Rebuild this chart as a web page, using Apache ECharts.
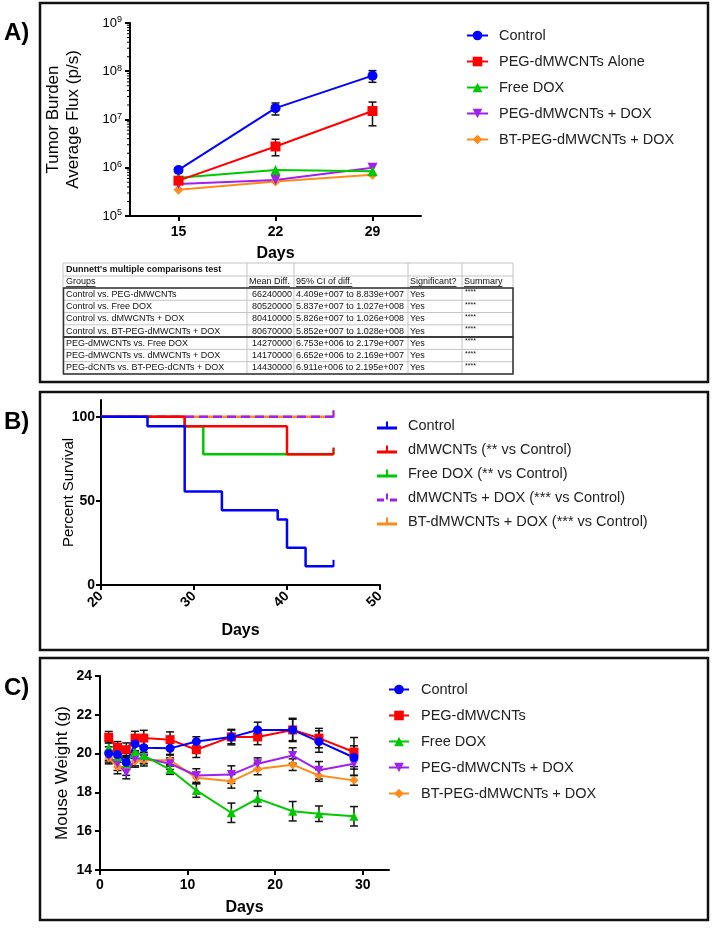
<!DOCTYPE html>
<html><head><meta charset="utf-8">
<script src="https://cdn.jsdelivr.net/npm/echarts@6/dist/echarts.min.js"></script>
<style>
html,body{margin:0;padding:0;background:#fff;}
.p{position:absolute;left:0;width:713px;}
#a{top:0;height:387px;}
#b{top:387px;height:266px;}
#c{top:653px;height:275px;}
</style></head><body>
<div id="a" class="p"></div><div id="b" class="p"></div><div id="c" class="p"></div>
<script>
// ---------------- Panel A data ----------------
const fluxDays = ['15', '22', '29'];
const fluxNames = ['Control', 'PEG-dMWCNTs Alone', 'Free DOX', 'PEG-dMWCNTs + DOX', 'BT-PEG-dMWCNTs + DOX'];
const fluxControl = [9.0e5, 1.72e7, 8.1e7];
const fluxPeg = [5.4e5, 2.76e6, 1.5e7];
const fluxFreeDox = [6.2e5, 9.0e5, 8.5e5];
const fluxPegDox = [4.6e5, 5.6e5, 1.0e6];
const fluxBtPegDox = [3.5e5, 5.2e5, 7.2e5];
const fluxControlLow = [8.0e5, 1.24e7, 5.9e7];
const fluxControlHigh = [1.0e6, 2.2e7, 1.03e8];
const fluxPegLow = [4.8e5, 1.77e6, 7.4e6];
const fluxPegHigh = [6.0e5, 3.9e6, 2.3e7];
const fluxMinorTicks = [2e5,3e5,4e5,5e5,6e5,7e5,8e5,9e5,2e6,3e6,4e6,5e6,6e6,7e6,8e6,9e6,2e7,3e7,4e7,5e7,6e7,7e7,8e7,9e7,2e8,3e8,4e8,5e8,6e8,7e8,8e8,9e8];

// Table
const tableTitle = "Dunnett's multiple comparisons test";
const tableHeader = ['Groups', 'Mean Diff.', '95% CI of diff.', 'Significant?', 'Summary'];
const tableGroups = ['Control vs. PEG-dMWCNTs', 'Control vs. Free DOX', 'Control vs. dMWCNTs + DOX', 'Control vs. BT-PEG-dMWCNTs + DOX', 'PEG-dMWCNTs vs. Free DOX', 'PEG-dMWCNTs vs. dMWCNTs + DOX', 'PEG-dCNTs vs. BT-PEG-dCNTs + DOX'];
const tableMeanDiff = ['66240000', '80520000', '80410000', '80670000', '14270000', '14170000', '14430000'];
const tableCI = ['4.409e+007 to 8.839e+007', '5.837e+007 to 1.027e+008', '5.826e+007 to 1.026e+008', '5.852e+007 to 1.028e+008', '6.753e+006 to 2.179e+007', '6.652e+006 to 2.169e+007', '6.911e+006 to 2.195e+007'];
const tableSig = ['Yes', 'Yes', 'Yes', 'Yes', 'Yes', 'Yes', 'Yes'];
const tableSummary = ['****', '****', '****', '****', '****', '****', '****'];

// ---------------- Panel B data ----------------
const survNames = ['Control', 'dMWCNTs (** vs Control)', 'Free DOX (** vs Control)', 'dMWCNTs + DOX (*** vs Control)', 'BT-dMWCNTs + DOX (*** vs Control)'];
const survControlDays = [20, 25, 29, 33, 39, 40, 42, 45];
const survControlPct = [100, 94.4, 55.6, 44.4, 38.9, 22.2, 11.1, 11.1];
const survDmwDays = [20, 29, 40, 45];
const survDmwPct = [100, 94.4, 77.8, 77.8];
const survFreeDays = [20, 29, 31, 45];
const survFreePct = [100, 94.4, 77.8, 77.8];
const survDoxDays = [20, 45];
const survDoxPct = [100, 100];
const survBtDays = [20, 45];
const survBtPct = [100, 100];
const survYTicks = [0, 50, 100];

// ---------------- Panel C data ----------------
const weightNames = ['Control', 'PEG-dMWCNTs', 'Free DOX', 'PEG-dMWCNTs + DOX', 'BT-PEG-dMWCNTs + DOX'];
const weightDays = [1, 2, 3, 4, 5, 8, 11, 15, 18, 22, 25, 29];
const weightControl = [20.0, 19.95, 19.55, 20.5, 20.3, 20.27, 20.62, 20.85, 21.22, 21.22, 20.62, 19.8];
const weightPeg = [20.84, 20.32, 20.2, 20.8, 20.8, 20.72, 20.2, 20.86, 20.86, 21.22, 20.8, 20.08];
const weightFreeDox = [20.3, 19.85, 19.5, 20.1, 19.9, 19.18, 18.1, 16.95, 17.68, 17.03, 16.9, 16.77];
const weightPegDox = [19.86, 19.48, 19.0, 19.72, 19.77, 19.48, 18.87, 18.92, 19.48, 19.9, 19.14, 19.48];
const weightBtPegDox = [19.77, 19.31, 19.18, 19.6, 19.66, 19.66, 18.75, 18.57, 19.21, 19.43, 18.87, 18.62];
const weightControlErr = [0.35, 0.3, 0.35, 0.35, 0.4, 0.35, 0.25, 0.4, 0.4, 0.55, 0.55, 0.6];
const weightPegErr = [0.3, 0.3, 0.35, 0.35, 0.4, 0.4, 0.4, 0.35, 0.4, 0.6, 0.5, 0.75];
const weightFreeDoxErr = [0.3, 0.3, 0.3, 0.35, 0.4, 0.25, 0.35, 0.5, 0.4, 0.5, 0.4, 0.5];
const weightPegDoxErr = [0.3, 0.35, 0.3, 0.35, 0.3, 0.3, 0.35, 0.45, 0.3, 0.4, 0.45, 0.6];
const weightBtPegDoxErr = [0.3, 0.35, 0.3, 0.3, 0.3, 0.3, 0.3, 0.35, 0.3, 0.3, 0.3, 0.25];
const weightXTicks = [0, 10, 20, 30];

// ---------------- styles ----------------
const FONT = '"Liberation Sans", Arial, Helvetica, sans-serif';
const C_BLUE = '#0000ff', C_RED = '#ff0000', C_GREEN = '#00c800', C_PURPLE = '#a020f0', C_ORANGE = '#ff8c1a';

function errorBarItem(params, api) {
  const x = api.value(0), lo = api.value(1), hi = api.value(2);
  const a = api.coord([x, lo]), b = api.coord([x, hi]);
  const cap = 4;
  const st = { stroke: '#111', lineWidth: 1.5 };
  return { type: 'group', children: [
    { type: 'line', shape: { x1: a[0], y1: a[1], x2: b[0], y2: b[1] }, style: st },
    { type: 'line', shape: { x1: a[0] - cap, y1: a[1], x2: a[0] + cap, y2: a[1] }, style: st },
    { type: 'line', shape: { x1: b[0] - cap, y1: b[1], x2: b[0] + cap, y2: b[1] }, style: st }
  ]};
}
function panelBox(y, h, label) {
  return [
    { type: 'rect', shape: { x: 40, y: y, width: 668, height: h }, style: { fill: 'none', stroke: '#111', lineWidth: 2.5 }, silent: true },
    { type: 'text', x: 4, y: y + 30, style: { text: label, font: 'bold 24px ' + FONT, fill: '#000', textVerticalAlign: 'middle' }, silent: true }
  ];
}
const axisLineSt = { show: true, lineStyle: { color: '#000', width: 2 } };
const axisTickSt = { show: true, length: 5, lineStyle: { color: '#000', width: 2 } };

// ---------------- Table ----------------
function buildTable() {
  const els = [];
  const colX = [63, 247, 294, 408, 462, 513];
  const rowY = [263, 276, 288];
  for (let i = 1; i <= 7; i++) rowY.push(288 + i * 12.28);
  const bottom = rowY[rowY.length - 1];
  const gray = { stroke: '#c4c4c4', lineWidth: 1 };
  rowY.forEach(y => els.push({ type: 'line', shape: { x1: 63, y1: y, x2: 513, y2: y }, style: gray }));
  colX.forEach(x => els.push({ type: 'line', shape: { x1: x, y1: 263, x2: x, y2: bottom }, style: gray }));
  els.push({ type: 'rect', shape: { x: 63.5, y: 288, width: 449.5, height: rowY[6] - 288 }, style: { fill: 'none', stroke: '#333', lineWidth: 1.5 } });
  els.push({ type: 'rect', shape: { x: 63.5, y: rowY[6], width: 449.5, height: bottom - rowY[6] }, style: { fill: 'none', stroke: '#333', lineWidth: 1.5 } });
  const f = '9px ' + FONT;
  const ctx = document.createElement('canvas').getContext('2d');
  ctx.font = f;
  els.push({ type: 'text', x: 66, y: 269.5, style: { text: tableTitle, font: 'bold 9px ' + FONT, fill: '#111', textVerticalAlign: 'middle' } });
  const hx = [66, 249, 296, 410, 464];
  tableHeader.forEach((t, i) => {
    els.push({ type: 'text', x: hx[i], y: 282, style: { text: t, font: f, fill: '#111', textVerticalAlign: 'middle' } });
    const w = ctx.measureText(t).width;
    els.push({ type: 'line', shape: { x1: hx[i], y1: 286.5, x2: hx[i] + w, y2: 286.5 }, style: { stroke: '#111', lineWidth: 0.8 } });
  });
  for (let r = 0; r < 7; r++) {
    const yc = rowY[2 + r] + 6.3;
    els.push({ type: 'text', x: 66, y: yc, style: { text: tableGroups[r], font: f, fill: '#111', textVerticalAlign: 'middle' } });
    els.push({ type: 'text', x: 292, y: yc, style: { text: tableMeanDiff[r], font: f, fill: '#111', textAlign: 'right', textVerticalAlign: 'middle' } });
    els.push({ type: 'text', x: 296, y: yc, style: { text: tableCI[r], font: f, fill: '#111', textVerticalAlign: 'middle' } });
    els.push({ type: 'text', x: 410, y: yc, style: { text: tableSig[r], font: f, fill: '#111', textVerticalAlign: 'middle' } });
    els.push({ type: 'text', x: 465, y: yc - 2, style: { text: tableSummary[r], font: '7px ' + FONT, fill: '#111', textVerticalAlign: 'middle' } });
  }
  return els;
}

// ---------------- Chart A ----------------
const chartA = echarts.init(document.getElementById('a'), null, { renderer: 'canvas' });
function lineSeriesA(name, data, color, symbol, rotate) {
  return { name: name, type: 'line', data: data, symbol: symbol, symbolSize: 10, symbolRotate: rotate || 0,
    itemStyle: { color: color }, lineStyle: { color: color, width: 2 }, z: 3 };
}
chartA.setOption({
  animation: false,
  textStyle: { fontFamily: FONT },
  grid: { left: 130, top: 23, width: 291, height: 193 },
  xAxis: {
    type: 'category', data: fluxDays, boundaryGap: true,
    axisLine: axisLineSt, axisTick: Object.assign({ alignWithLabel: true }, axisTickSt),
    axisLabel: { color: '#000', fontWeight: 'bold', fontSize: 14, margin: 9 },
    name: 'Days', nameLocation: 'middle', nameGap: 30, nameMoveOverlap: false,
    nameTextStyle: { color: '#000', fontWeight: 'bold', fontSize: 16 }
  },
  yAxis: {
    type: 'log', logBase: 10, min: 1e5, max: 1e9,
    axisLine: axisLineSt, axisTick: axisTickSt, splitLine: { show: false },
    axisLabel: {
      color: '#000', fontSize: 13, margin: 8,
      formatter: v => '10{s|' + Math.round(Math.log10(v)) + '}',
      rich: { s: { fontSize: 9, verticalAlign: 'top', padding: [0, 0, 6, 0], color: '#000' } }
    },
    name: 'Tumor Burden\nAverage Flux (p/s)', nameLocation: 'middle', nameGap: 47, nameMoveOverlap: false,
    nameTextStyle: { color: '#000', fontSize: 17, lineHeight: 20 }
  },
  legend: {
    orient: 'vertical', left: 466, top: 28, padding: 0, itemWidth: 21, itemHeight: 12, itemGap: 11,
    textStyle: { fontSize: 14.5, color: '#222', padding: [0, 0, 0, 6] },
    data: fluxNames
  },
  series: [
    { type: 'custom', silent: true, z: 1, clip: false,
      renderItem: (params, api) => {
        const y = api.coord([0, api.value(1)])[1];
        const x0 = params.coordSys.x;
        return { type: 'line', shape: { x1: x0 - 3, y1: y, x2: x0, y2: y }, style: { stroke: '#000', lineWidth: 1 } };
      },
      data: fluxMinorTicks.map(v => [0, v]) },
    { type: 'custom', silent: true, z: 2, renderItem: errorBarItem, encode: { x: 0, y: [1, 2] },
      data: fluxControl.map((v, i) => [i, fluxControlLow[i], fluxControlHigh[i]]) },
    { type: 'custom', silent: true, z: 2, renderItem: errorBarItem, encode: { x: 0, y: [1, 2] },
      data: fluxPeg.map((v, i) => [i, fluxPegLow[i], fluxPegHigh[i]]) },
    lineSeriesA(fluxNames[4], fluxBtPegDox, C_ORANGE, 'diamond'),
    lineSeriesA(fluxNames[3], fluxPegDox, C_PURPLE, 'triangle', 180),
    lineSeriesA(fluxNames[2], fluxFreeDox, C_GREEN, 'triangle'),
    lineSeriesA(fluxNames[1], fluxPeg, C_RED, 'rect'),
    lineSeriesA(fluxNames[0], fluxControl, C_BLUE, 'circle')
  ],
  graphic: { elements: panelBox(3, 379, 'A)').concat(buildTable()) }
});

// ---------------- Chart B ----------------
const chartB = echarts.init(document.getElementById('b'), null, { renderer: 'canvas' });
function survSeries(name, days, pct, color, z, dashed) {
  const last = days.length - 1;
  return {
    name: name, type: 'line', step: 'end', z: z,
    symbol: 'rect', symbolSize: [2, 7], symbolOffset: [0, -3],
    itemStyle: { color: color },
    lineStyle: { color: color, width: 2.5, type: dashed ? [9, 5] : 'solid' },
    data: days.map((d, i) => i === last ? { value: [d, pct[i]] } : { value: [d, pct[i]], symbol: 'none' })
  };
}
const tickIcon = 'path://M0,5h20v3h-20z M9,0h2v5h-2z';
const dashIcon = 'path://M0,5h7v3h-7z M9,0h2v6h-2z M13,5h7v3h-7z';
chartB.setOption({
  animation: false,
  textStyle: { fontFamily: FONT },
  grid: { left: 101, top: 13, width: 279, height: 185 },
  xAxis: {
    type: 'value', min: 20, max: 50, interval: 10,
    axisLine: axisLineSt, axisTick: axisTickSt, splitLine: { show: false },
    axisLabel: { color: '#000', fontWeight: 'bold', fontSize: 14, rotate: 45, margin: 9 },
    name: 'Days', nameLocation: 'middle', nameGap: 38, nameMoveOverlap: false,
    nameTextStyle: { color: '#000', fontWeight: 'bold', fontSize: 16 }
  },
  yAxis: {
    type: 'value', min: 0, max: 110,
    axisLine: axisLineSt,
    axisTick: Object.assign({ customValues: survYTicks }, axisTickSt),
    splitLine: { show: false },
    axisLabel: { color: '#000', fontWeight: 'bold', fontSize: 14, margin: 6, customValues: survYTicks },
    name: 'Percent Survival', nameLocation: 'middle', nameGap: 25, nameMoveOverlap: false,
    nameTextStyle: { color: '#000', fontSize: 15 }
  },
  legend: {
    orient: 'vertical', left: 377, top: 31, padding: 0, itemWidth: 20, itemHeight: 8, itemGap: 9,
    textStyle: { fontSize: 14.5, color: '#222', padding: [0, 0, 0, 6] },
    data: [
      { name: survNames[0], icon: tickIcon },
      { name: survNames[1], icon: tickIcon },
      { name: survNames[2], icon: tickIcon },
      { name: survNames[3], icon: dashIcon },
      { name: survNames[4], icon: tickIcon }
    ]
  },
  series: [
    survSeries(survNames[2], survFreeDays, survFreePct, C_GREEN, 2),
    survSeries(survNames[4], survBtDays, survBtPct, C_ORANGE, 3),
    survSeries(survNames[3], survDoxDays, survDoxPct, C_PURPLE, 4, true),
    survSeries(survNames[1], survDmwDays, survDmwPct, C_RED, 5),
    survSeries(survNames[0], survControlDays, survControlPct, C_BLUE, 6)
  ],
  graphic: { elements: panelBox(5, 258, 'B)') }
});

// ---------------- Chart C ----------------
const chartC = echarts.init(document.getElementById('c'), null, { renderer: 'canvas' });
function weightSeries(name, vals, color, symbol, rotate) {
  return { name: name, type: 'line', data: weightDays.map((d, i) => [d, vals[i]]),
    symbol: symbol, symbolSize: 9, symbolRotate: rotate || 0,
    itemStyle: { color: color }, lineStyle: { color: color, width: 2 }, z: 3 };
}
function weightErr(vals, errs) {
  return { type: 'custom', silent: true, z: 2, renderItem: errorBarItem, encode: { x: 0, y: [1, 2] },
    data: weightDays.map((d, i) => [d, vals[i] - errs[i], vals[i] + errs[i]]) };
}
chartC.setOption({
  animation: false,
  textStyle: { fontFamily: FONT },
  grid: { left: 100, top: 23, width: 289, height: 194 },
  xAxis: {
    type: 'value', min: 0, max: 33,
    axisLine: axisLineSt,
    axisTick: Object.assign({ customValues: weightXTicks }, axisTickSt),
    splitLine: { show: false },
    axisLabel: { color: '#000', fontWeight: 'bold', fontSize: 14, margin: 8, customValues: weightXTicks },
    name: 'Days', nameLocation: 'middle', nameGap: 30, nameMoveOverlap: false,
    nameTextStyle: { color: '#000', fontWeight: 'bold', fontSize: 16 }
  },
  yAxis: {
    type: 'value', min: 14, max: 24, interval: 2,
    axisLine: axisLineSt, axisTick: axisTickSt, splitLine: { show: false },
    axisLabel: { color: '#000', fontWeight: 'bold', fontSize: 14, margin: 8 },
    name: 'Mouse Weight (g)', nameLocation: 'middle', nameGap: 29, nameMoveOverlap: false,
    nameTextStyle: { color: '#000', fontSize: 17 }
  },
  legend: {
    orient: 'vertical', left: 388, top: 29, padding: 0, itemWidth: 20, itemHeight: 12, itemGap: 11,
    textStyle: { fontSize: 14.5, color: '#222', padding: [0, 0, 0, 7] },
    data: weightNames
  },
  series: [
    weightErr(weightBtPegDox, weightBtPegDoxErr),
    weightErr(weightPegDox, weightPegDoxErr),
    weightErr(weightFreeDox, weightFreeDoxErr),
    weightErr(weightPeg, weightPegErr),
    weightErr(weightControl, weightControlErr),
    weightSeries(weightNames[4], weightBtPegDox, C_ORANGE, 'diamond'),
    weightSeries(weightNames[3], weightPegDox, C_PURPLE, 'triangle', 180),
    weightSeries(weightNames[2], weightFreeDox, C_GREEN, 'triangle'),
    weightSeries(weightNames[1], weightPeg, C_RED, 'rect'),
    weightSeries(weightNames[0], weightControl, C_BLUE, 'circle')
  ],
  graphic: { elements: panelBox(5, 262, 'C)') }
});
</script>
</body></html>
